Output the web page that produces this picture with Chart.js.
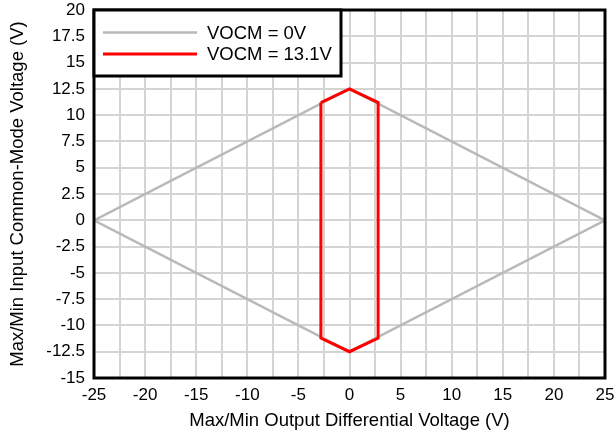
<!DOCTYPE html>
<html><head><meta charset="utf-8">
<script src="https://cdn.jsdelivr.net/npm/chart.js@4/dist/chart.umd.min.js"></script>
<style>html,body{margin:0;padding:0;background:#fff}#wrap{width:616px;height:436px}</style>
</head><body><div id="wrap"><canvas id="c" width="616" height="436"></canvas></div>
<script>
const seriesLabels = ['VOCM = 0V', 'VOCM = 13.1V'];
const vocm0X = [-25, 0, 25, 0, -25];
const vocm0Y = [0, 12.5, 0, -12.5, 0];
const vocm131X = [-2.8, 0, 2.8, 2.8, 0, -2.8, -2.8];
const vocm131Y = [11.2, 12.5, 11.2, -11.2, -12.5, -11.2, 11.2];
const xTitle = 'Max/Min Output Differential Voltage (V)';
const yTitle = 'Max/Min Input Common-Mode Voltage (V)';
const colors = ['#b9b9b9', '#ff0000'];

const toPts = (xs, ys) => xs.map((x, i) => ({x, y: ys[i]}));
const FONT = "'Liberation Sans', Arial, sans-serif";

const framePlugin = {
  id: 'frame',
  afterDraw(chart) {
    const {ctx, chartArea: a} = chart;
    ctx.save();
    ctx.strokeStyle = '#000'; ctx.lineWidth = 3;
    ctx.strokeRect(a.left, a.top, a.right - a.left, a.bottom - a.top);
    // legend box in the upper-left corner of the plot
    const bx = a.left, by = a.top, bw = 247, bh = 66;
    ctx.fillStyle = '#fff';
    ctx.fillRect(bx, by, bw, bh);
    ctx.strokeRect(bx, by, bw, bh);
    ctx.font = '18.5px ' + FONT;
    ctx.textBaseline = 'middle';
    chart.data.datasets.forEach((ds, i) => {
      const y = by + 22.5 + i * 21.5;
      ctx.strokeStyle = ds.borderColor; ctx.lineWidth = ds.borderWidth;
      ctx.beginPath(); ctx.moveTo(bx + 9, y); ctx.lineTo(bx + 103, y); ctx.stroke();
      ctx.fillStyle = '#000';
      ctx.fillText(ds.label, bx + 113, y + 1);
    });
    ctx.restore();
  }
};

new Chart(document.getElementById('c'), {
  type: 'scatter',
  data: {
    datasets: [
      {label: seriesLabels[0], data: toPts(vocm0X, vocm0Y), order: 1, showLine: true, borderColor: colors[0], borderWidth: 2.5, pointRadius: 0, fill: false, tension: 0},
      {label: seriesLabels[1], data: toPts(vocm131X, vocm131Y), order: 0, showLine: true, borderColor: colors[1], borderWidth: 3, pointRadius: 0, fill: false, tension: 0}
    ]
  },
  options: {
    responsive: false, animation: false,
    layout: {padding: {left: 0, right: 11, top: 10, bottom: 0}},
    plugins: {legend: {display: false}, tooltip: {enabled: false}},
    scales: {
      x: {
        type: 'linear', min: -25, max: 25,
        ticks: {stepSize: 2.5, color: '#000', font: {family: FONT, size: 17}, padding: 7, maxRotation: 0, autoSkip: false,
          callback: v => (Math.abs(v % 5) < 1e-9 ? String(v) : '')},
        grid: {color: '#d4d4d4', lineWidth: 2, drawTicks: false},
        border: {display: false},
        title: {display: true, text: xTitle, color: '#000', font: {family: FONT, size: 18.5}, padding: {top: 0, bottom: 4}},
        afterFit(s) { s.height = 58; s.paddingLeft = 0; s.paddingRight = 0; }
      },
      y: {
        type: 'linear', min: -15, max: 20,
        ticks: {stepSize: 2.5, color: '#000', font: {family: FONT, size: 17}, padding: 9, autoSkip: false},
        grid: {color: '#d4d4d4', lineWidth: 2, drawTicks: false},
        border: {display: false},
        title: {display: true, text: yTitle, color: '#000', font: {family: FONT, size: 18.5}, padding: {top: 7, bottom: 0}},
        afterFit(s) { s.width = 94; s.paddingTop = 0; s.paddingBottom = 0; }
      }
    }
  },
  plugins: [framePlugin]
});
</script></body></html>
